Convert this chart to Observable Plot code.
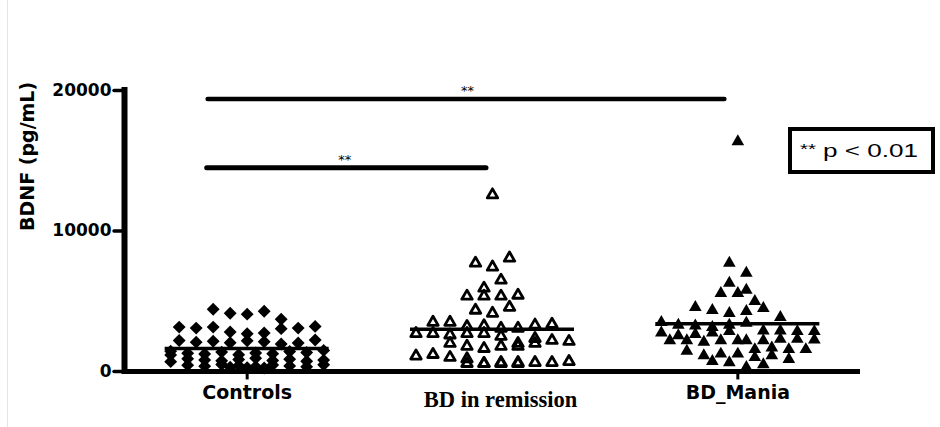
<!DOCTYPE html>
<html>
<head>
<meta charset="utf-8">
<script src="https://cdn.jsdelivr.net/npm/d3@7"></script>
<script src="https://cdn.jsdelivr.net/npm/@observablehq/plot@0.6"></script>
<style>
  html, body { margin: 0; padding: 0; background: #fff; }
  #chart { position: relative; width: 940px; height: 427px; overflow: hidden; }
  #chart .edge { position: absolute; left: 7px; top: 0; width: 1px; height: 427px; background: #e4e4e4; }
</style>
</head>
<body>
<div id="chart"><div class="edge"></div></div>
<script>
// Groups, in axis order
const groups = ["Controls", "BD in remission", "BD_Mania"];

// Serum BDNF (pg/mL) per subject
const controls = [
  4430, 4150, 4080, 4290, 3720,
  3160, 3090, 3160, 2810, 2690, 2740, 3050, 3090, 3210,
  2210, 2090, 2150, 2050, 2180, 2120, 1960, 2030, 2240,
  1450, 1300, 1250, 1380, 1200, 1320, 1270, 1420, 1350, 1180, 1500,
  900, 820, 760, 850, 700, 950, 780, 880, 730, 810,
  450, 380, 300, 500, 420, 350, 280, 460, 400, 330, 250, 480
];
const remission = [
  12570, 7710, 7430, 8070, 5930, 6500, 5360, 5360, 5360, 5430, 4360, 4140, 4570, 3500, 3500,
  3200, 3250, 3070, 3070, 3300, 3360,
  2700, 2700, 2600, 2700, 2700, 2500,
  2000, 2000, 1790, 2350, 1640, 2210, 1790, 1790, 2000, 2140,
  1100, 1210, 1000, 900,
  570, 570, 640, 640, 570, 570, 640, 570, 640, 710
];
const mania = [
  16360, 7710, 7000, 6290, 5790, 5570, 5570, 5000, 4570, 4360, 4140, 4290, 4500, 3860,
  3500, 3300, 3250, 3150, 3300, 3450,
  2900, 2900, 2850, 2750, 2550, 2650, 2750, 2850, 2850,
  2200, 2200, 2300, 2200, 2300, 2250, 2200, 2100, 2200, 2200,
  1570, 1690, 1570, 1450, 1570,
  1140, 1250, 1250, 1000, 1140, 860, 720,
  640, 290, 500
];

// Group mean lines
const groupMeans = [1640, 3000, 3400];

// Significance brackets
const sigFrom = ["Controls", "Controls"];
const sigTo = ["BD_Mania", "BD in remission"];
const sigLevel = [19400, 14500];
const sigText = ["**", "**"];

// Axis ticks
const yTicks = [0, 10000, 20000];
const xTickGroups = ["Controls", "BD_Mania"];

// ---- layout ----
const width = 940, height = 427;
const margin = {top: 90, right: 80, bottom: 56, left: 124};
const xDomain = [0.5, groups.length + 0.5];
const pxPerUnit = (width - margin.left - margin.right) / (xDomain[1] - xDomain[0]);
const yPx = d3.scaleLinear([0, 20000], [height - margin.bottom, margin.top]);
const idx = name => groups.indexOf(name) + 1;

// Scatter-dot layout: points within a few pixels vertically share a row,
// and each row is spread symmetrically around the group centre.
function swarm(values, group, rowGap = 10, maxPerRow = 10, step = 17) {
  const items = values.map((v, i) => ({value: v, i, py: yPx(v), group}));
  const sorted = items.slice().sort((a, b) => a.py - b.py);
  const rows = [];
  for (const it of sorted) {
    const row = rows[rows.length - 1];
    if (row && it.py - row[0].py < rowGap && row.length < maxPerRow) row.push(it);
    else rows.push([it]);
  }
  for (const row of rows) {
    row.sort((a, b) => a.i - b.i);
    row.forEach((it, k) => { it.offset = (k - (row.length - 1) / 2) * step; });
  }
  return items.map(it => ({...it, x: idx(group) + it.offset / pxPerUnit}));
}

const ptsControls = swarm(controls, "Controls");
const ptsRemission = swarm(remission, "BD in remission");
const ptsMania = swarm(mania, "BD_Mania");

const meanRows = groups.map((g, i) => ({group: g, i: i + 1, mean: groupMeans[i]}));
const sigRows = sigFrom.map((f, i) => ({from: idx(f), to: idx(sigTo[i]), y: sigLevel[i], text: sigText[i]}));

const bold = "DejaVu Sans, Arial, sans-serif";
const halfLine = 82 / pxPerUnit;

const chart = Plot.plot({
  width, height,
  marginTop: margin.top, marginRight: margin.right, marginBottom: margin.bottom, marginLeft: margin.left,
  x: {type: "linear", domain: xDomain, axis: null},
  y: {domain: [0, 20000], axis: null},
  style: {background: "white", overflow: "visible", color: "black"},
  marks: [
    // y axis: spine, ticks, labels, title
    Plot.ruleX([xDomain[0]], {x: d => d, y1: 0, y2: 20000, stroke: "black", strokeWidth: 6, strokeLinecap: "square"}),
    Plot.ruleY(yTicks, {y: d => d, x1: () => xDomain[0], x2: () => xDomain[0], insetLeft: -10, stroke: "black", strokeWidth: 3.5, strokeLinecap: "round"}),
    Plot.text(yTicks, {x: () => xDomain[0], y: d => d, text: d => String(d), textAnchor: "end", dx: -13,
      fontFamily: bold, fontWeight: "bold", fontSize: 17, fill: "black"}),
    Plot.text(["BDNF (pg/mL)"], {frameAnchor: "left", text: d => d, rotate: -90, dx: -97,
      fontFamily: bold, fontWeight: "bold", fontSize: 19, fill: "black"}),

    // x axis: baseline, ticks, category labels
    Plot.ruleY([0], {x1: () => xDomain[0], x2: () => xDomain[1], stroke: "black", strokeWidth: 4.8}),
    Plot.ruleX(xTickGroups, {x: d => idx(d), y1: 0, y2: -600, stroke: "black", strokeWidth: 3}),
    Plot.text(groups.filter(g => g !== "BD in remission"), {x: d => idx(d), y: 0, text: d => d, dy: 21,
      fontFamily: bold, fontWeight: "bold", fontSize: 19, fill: "black"}),
    Plot.text(["BD in remission"], {x: d => idx(d), y: 0, text: d => d, dx: 8, dy: 28,
      fontFamily: "Liberation Serif, Times New Roman, serif", fontWeight: "bold", fontSize: 22.5, fill: "black"}),

    // group mean lines
    Plot.ruleY(meanRows, {y: "mean", x1: d => d.i - halfLine, x2: d => d.i + halfLine, stroke: "black", strokeWidth: 3.5}),

    // subjects
    Plot.dot(ptsControls, {x: "x", y: "value", symbol: "diamond2", r: 5.8, fill: "black", stroke: "none"}),
    Plot.dot(ptsRemission, {x: "x", y: "value", symbol: "triangle2", r: 5, fill: "none", stroke: "black", strokeWidth: 2.8, strokeLinejoin: "round"}),
    Plot.dot(ptsMania, {x: "x", y: "value", symbol: "triangle", r: 4.7, fill: "black", stroke: "none"}),

    // significance brackets
    Plot.ruleY([sigRows[0]], {y: "y", x1: "from", x2: "to", insetLeft: -39, insetRight: 13, stroke: "black", strokeWidth: 4.6, strokeLinecap: "round"}),
    Plot.ruleY([sigRows[1]], {y: "y", x1: "from", x2: "to", insetLeft: -40, insetRight: 6, stroke: "black", strokeWidth: 5, strokeLinecap: "round"}),
    Plot.text(sigRows, {x: d => (d.from + d.to) / 2, y: "y", text: "text", dx: -25, dy: -8,
      fontFamily: bold, fontSize: 13, fill: "black"})
  ]
});

document.getElementById("chart").appendChild(chart);

// significance key
const key = d3.select(chart).append("g").attr("aria-label", "significance key")
  .attr("text-anchor", "start").attr("fill", "black");
key.append("rect").attr("x", 790).attr("y", 129).attr("width", 143).attr("height", 43)
  .attr("fill", "white").attr("stroke", "black").attr("stroke-width", 4);
key.append("text").attr("x", 800).attr("y", 154).attr("text-anchor", "start")
  .attr("font-family", "Liberation Sans, Arial, sans-serif").attr("font-size", 14)
  .attr("textLength", 16).attr("lengthAdjust", "spacingAndGlyphs").text("**");
key.append("text").attr("x", 823).attr("y", 157).attr("text-anchor", "start")
  .attr("font-family", "Liberation Sans, Arial, sans-serif").attr("font-size", 17.5)
  .attr("textLength", 95).attr("lengthAdjust", "spacingAndGlyphs").text("p < 0.01");
</script>
</body>
</html>
